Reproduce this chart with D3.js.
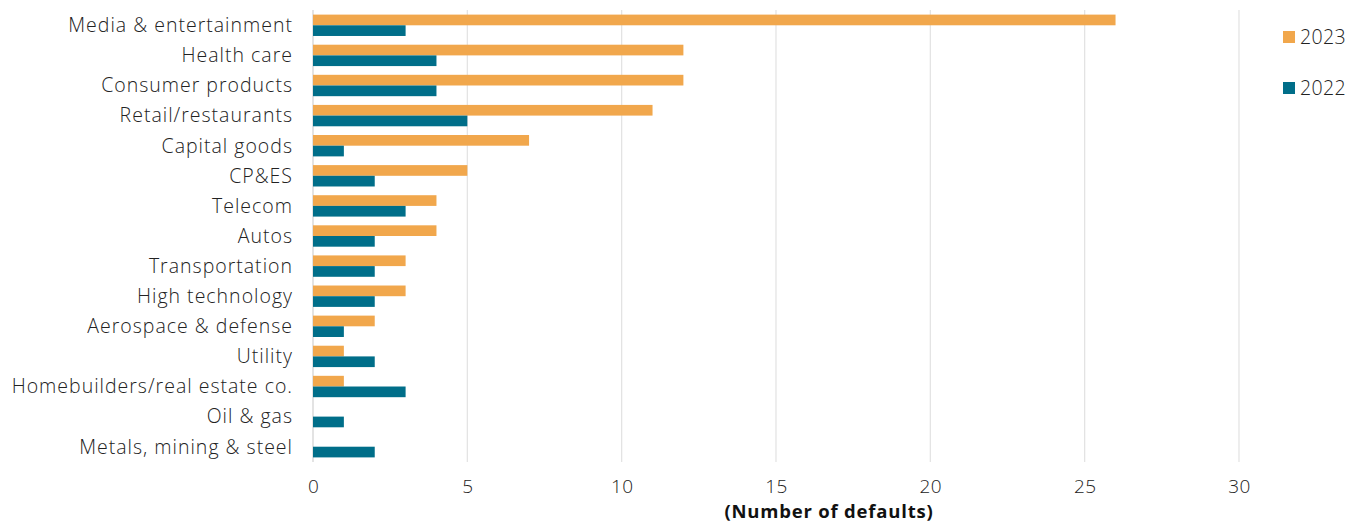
<!DOCTYPE html>
<html><head><meta charset="utf-8">
<script src="https://cdn.jsdelivr.net/npm/d3@7"></script>
<style>
body{margin:0;background:#fff;}
svg text{font-family:"Open Sans",Roboto,sans-serif;}
</style></head>
<body><svg id="c" width="1348" height="522"></svg>
<script>
const categories = ["Media & entertainment","Health care","Consumer products","Retail/restaurants","Capital goods","CP&ES","Telecom","Autos","Transportation","High technology","Aerospace & defense","Utility","Homebuilders/real estate co.","Oil & gas","Metals, mining & steel"];
const values2023 = [26,12,12,11,7,5,4,4,3,3,2,1,1,0,0];
const values2022 = [3,4,4,5,1,2,3,2,2,2,1,2,3,1,2];
const seriesNames = ["2023","2022"];
const xTicks = [0,5,10,15,20,25,30];
const axisTitle = "(Number of defaults)";

const colors = {"2023":"#F1A74C","2022":"#006E89"};
const svg = d3.select("#c");
const x = d3.scaleLinear().domain([0,30]).range([313,1239]);
const y = d3.scaleBand().domain(categories).range([10,462]).paddingInner(0.29).paddingOuter(0.153);
const sub = d3.scaleBand().domain(seriesNames).range([0,y.bandwidth()]);

svg.append("g").selectAll("line").data(xTicks).join("line")
  .attr("x1",d=>x(d)).attr("x2",d=>x(d)).attr("y1",10).attr("y2",462)
  .attr("stroke",d=>d===0?"#d0d0d0":"#e2e2e2").attr("stroke-width",1.2);

const data = categories.map((c,i)=>({c, v:{"2023":values2023[i],"2022":values2022[i]}}));
const g = svg.append("g");
seriesNames.forEach(s=>{
  g.selectAll("rect.s"+s).data(data).join("rect")
   .attr("x",x(0)).attr("y",d=>y(d.c)+sub(s))
   .attr("width",d=>x(d.v[s])-x(0)).attr("height",sub.bandwidth())
   .attr("fill",colors[s]);
});

svg.append("g").selectAll("text").data(categories).join("text")
  .attr("x",293).attr("y",d=>y(d)+y.bandwidth()/2)
  .attr("dy","0.35em").attr("text-anchor","end")
  .attr("font-size",19.5).attr("font-weight",300).attr("fill","#222")
  .attr("letter-spacing",1.0).text(d=>d);

const xa = svg.append("g").attr("transform","translate(0,470)")
  .call(d3.axisBottom(x).tickValues(xTicks).tickSize(0).tickPadding(10));
xa.select(".domain").remove();
xa.selectAll("text").attr("font-size",19).attr("font-weight",300).attr("fill","#222")
  .style("font-family","Open Sans").attr("letter-spacing",0.4);

svg.append("text").attr("x",829).attr("y",518).attr("text-anchor","middle")
  .attr("font-size",18.5).attr("font-weight",700).attr("fill","#111")
  .attr("letter-spacing",0.8).text(axisTitle);

const lg = svg.append("g").selectAll("g").data(seriesNames).join("g")
  .attr("transform",(d,i)=>`translate(1283,${31+i*51})`);
lg.append("rect").attr("width",12).attr("height",12).attr("fill",d=>colors[d]);
lg.append("text").attr("x",17).attr("y",6).attr("dy","0.36em")
  .attr("font-size",19.5).attr("font-weight",300).attr("fill","#222").attr("letter-spacing",0.4).text(d=>d);
</script></body></html>
